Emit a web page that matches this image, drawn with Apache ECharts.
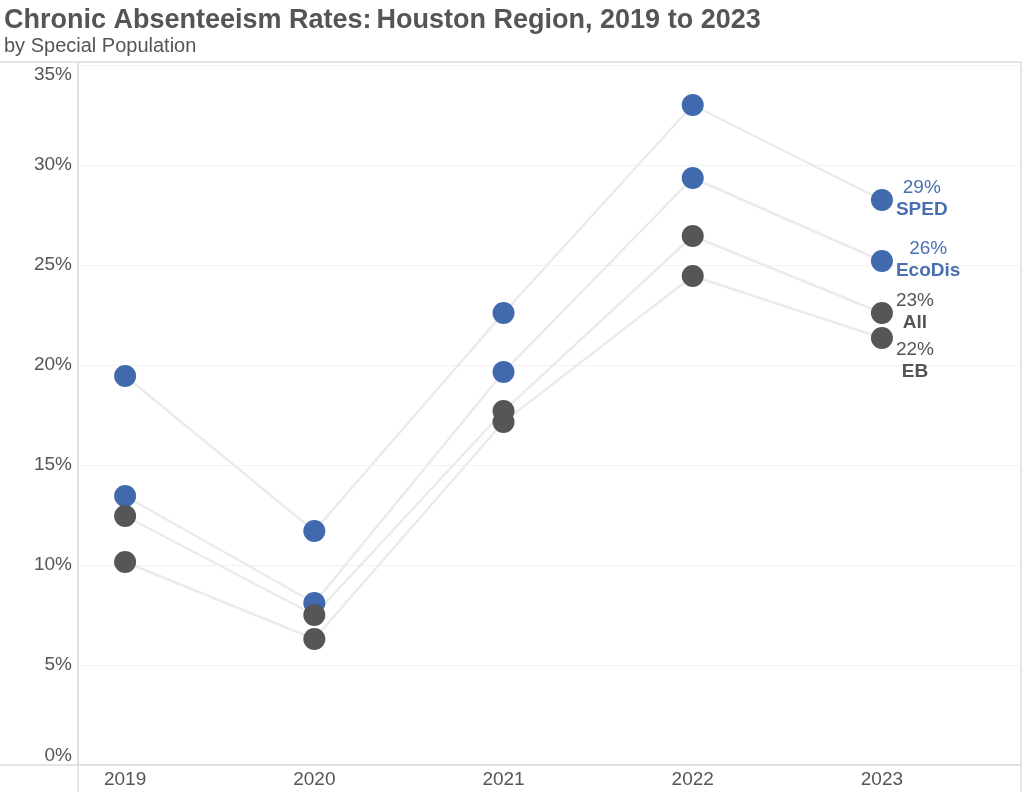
<!DOCTYPE html>
<html>
<head>
<meta charset="utf-8">
<script src="https://cdn.jsdelivr.net/npm/echarts@6/dist/echarts.min.js"></script>
<style>
html,body{margin:0;padding:0;background:#fff;}
#chart{width:1024px;height:792px;}
</style>
</head>
<body>
<div id="chart"></div>
<script>
const years = [2019, 2020, 2021, 2022, 2023];
const groups = ['SPED', 'EcoDis', 'All', 'EB'];
const spedValues   = [19.45, 11.7, 22.6, 33.0, 28.25];
const ecoDisValues = [13.45, 8.1, 19.65, 29.35, 25.2];
const allValues    = [12.45, 7.5, 17.7, 26.45, 22.6];
const ebValues     = [10.15, 6.3, 17.15, 24.45, 21.35];
const endLabels = ['29%', '26%', '23%', '22%'];
const yTicks = [0, 5, 10, 15, 20, 25, 30, 35];

const seriesValues = [spedValues, ecoDisValues, allValues, ebValues];
const BLUE = '#4169ad';
const GRAY = '#555658';
const dotColors = [BLUE, BLUE, GRAY, GRAY];
const labelOffsets = [[0, -1], [0, -1], [0, -1], [0, 23]];
const FONT = 'Liberation Sans';

const series = [];
seriesValues.forEach((vals, i) => {
  series.push({
    name: groups[i] + ' line',
    type: 'line',
    data: years.map((y, k) => [y, vals[k]]),
    showSymbol: false,
    silent: true,
    z: 1,
    lineStyle: { color: '#ebebeb', width: 2.5 }
  });
});
seriesValues.forEach((vals, i) => {
  const txtColor = dotColors[i] === BLUE ? '#4a70b2' : '#555';
  series.push({
    name: groups[i],
    type: 'scatter',
    symbol: 'circle',
    symbolSize: 22,
    z: 3,
    itemStyle: { color: dotColors[i], opacity: 1 },
    emphasis: { disabled: true },
    data: years.map((y, k) => {
      const item = { value: [y, vals[k]] };
      if (k === years.length - 1) {
        item.label = {
          show: true,
          position: 'right',
          distance: 3,
          offset: labelOffsets[i],
          formatter: '{v|' + endLabels[i] + '}\n{n|' + groups[i] + '}',
          rich: {
            v: { fontFamily: FONT, fontSize: 19, color: txtColor, align: 'center', lineHeight: 22 },
            n: { fontFamily: FONT, fontSize: 19, fontWeight: 'bold', color: txtColor, align: 'center', lineHeight: 22 }
          }
        };
      }
      return item;
    })
  });
});

const chart = echarts.init(document.getElementById('chart'), null, { renderer: 'canvas' });
chart.setOption({
  backgroundColor: '#ffffff',
  animation: false,
  title: {
    left: -1,
    top: 2,
    text: '{b|Chronic Absenteeism Rates:} {n|Houston Region, 2019 to 2023}',
    subtext: 'by Special Population',
    itemGap: 2,
    textStyle: {
      rich: {
        b: { fontFamily: FONT, fontSize: 27, fontWeight: 'bold', color: '#555' },
        n: { fontFamily: FONT, fontSize: 27, color: '#555' }
      }
    },
    subtextStyle: { fontFamily: FONT, fontSize: 20, color: '#555' }
  },
  grid: { left: 78, right: 3, top: 65, bottom: 27, containLabel: false },
  xAxis: {
    type: 'value',
    min: 2018.751,
    max: 2023.735,
    axisLine: { show: true, lineStyle: { color: '#dcdcdc', width: 1.5 } },
    axisTick: { show: false },
    splitLine: { show: false },
    axisLabel: {
      customValues: years,
      formatter: v => String(v),
      fontFamily: FONT, fontSize: 19, color: '#555', margin: 5
    }
  },
  yAxis: {
    type: 'value',
    min: 0, max: 35, interval: 5,
    axisLine: { show: true, lineStyle: { color: '#dcdcdc', width: 1.5 } },
    axisTick: { show: false },
    splitLine: { show: true, lineStyle: { color: '#f2f2f2', width: 1 } },
    axisLabel: {
      formatter: v => yTicks.includes(v) ? v + '%' : '',
      fontFamily: FONT, fontSize: 19, color: '#555', margin: 6,
      verticalAlignMinLabel: 'bottom',
      verticalAlignMaxLabel: 'top'
    }
  },
  graphic: [
    { type: 'line', shape: { x1: 0, y1: 62, x2: 1021, y2: 62 }, style: { stroke: '#dcdcdc', lineWidth: 1.5 }, silent: true },
    { type: 'line', shape: { x1: 0, y1: 765, x2: 1021, y2: 765 }, style: { stroke: '#dcdcdc', lineWidth: 1.5 }, silent: true },
    { type: 'line', shape: { x1: 78, y1: 62, x2: 78, y2: 792 }, style: { stroke: '#dcdcdc', lineWidth: 1.5 }, silent: true },
    { type: 'line', shape: { x1: 1021, y1: 62, x2: 1021, y2: 792 }, style: { stroke: '#dcdcdc', lineWidth: 1.5 }, silent: true }
  ],
  series: series
});
</script>
</body>
</html>
